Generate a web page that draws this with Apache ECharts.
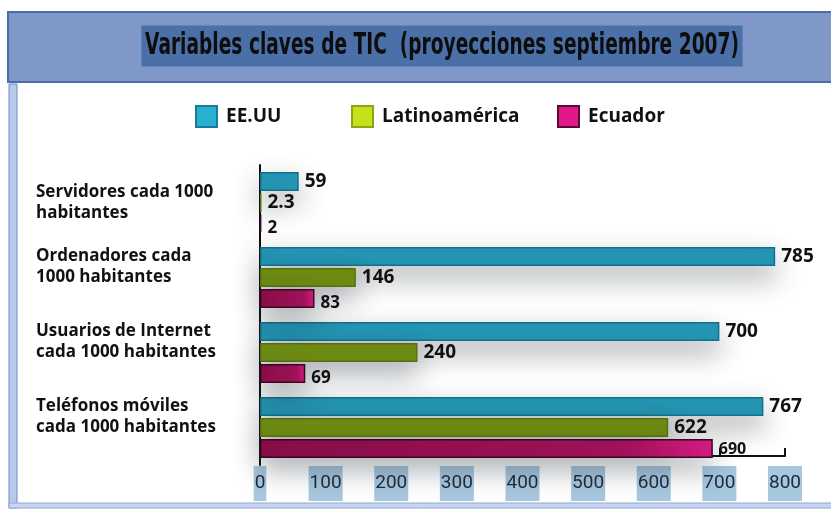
<!DOCTYPE html>
<html>
<head>
<meta charset="utf-8">
<script src="https://cdn.jsdelivr.net/npm/echarts@6/dist/echarts.min.js"></script>
<style>
  html, body { margin: 0; padding: 0; background: #fff; }
  #chart { width: 831px; height: 511px; }
</style>
</head>
<body>
<div id="chart"></div>
<script>
const categories = [
  'Servidores cada 1000\nhabitantes',
  'Ordenadores cada\n1000 habitantes',
  'Usuarios de Internet\ncada 1000 habitantes',
  'Teléfonos móviles\ncada 1000 habitantes'
];
const seriesNames = ['EE.UU', 'Latinoamérica', 'Ecuador'];
const usaValues = [59, 785, 700, 767];
const latamValues = [2.3, 146, 240, 622];
const ecuadorValues = [2, 83, 69, 690];
const xTicks = { min: 0, max: 800, interval: 100 };
const titleText = 'Variables claves de TIC  (proyecciones septiembre 2007)';

const bold = "'Open Sans', 'Noto Sans', sans-serif";

const chart = echarts.init(document.getElementById('chart'));

const shadow = {
  shadowColor: 'rgba(40,50,60,0.4)',
  shadowBlur: 28,
  shadowOffsetY: 12
};

function valueLabel(extra) {
  return Object.assign({
    show: true,
    position: 'right',
    distance: 6,
    color: '#111',
    fontFamily: bold,
    fontWeight: 'bold',
    fontSize: 19
  }, extra || {});
}

// one legend per item so each can sit where the reference puts it
const legendSpots = [190, 346, 552];
const legendIcons = [
  { color: '#28b0d0', borderColor: '#1a7b96', borderWidth: 2 },
  { color: '#c6e11a', borderColor: '#8ea414', borderWidth: 2 },
  { color: '#e0188a', borderColor: '#5a0a30', borderWidth: 2 }
];
const legends = seriesNames.map((name, i) => ({
  top: 100,
  left: legendSpots[i],
  icon: 'rect',
  itemWidth: 21,
  itemHeight: 21,
  itemGap: 8,
  selectedMode: false,
  textStyle: {
    fontFamily: bold,
    fontWeight: 'bold',
    fontSize: 19,
    color: '#111',
    padding: [0, 0, 0, 4]
  },
  data: [{ name: name, itemStyle: legendIcons[i] }]
}));

const option = {
  backgroundColor: '#fff',
  legend: legends,
  graphic: [
    {
      type: 'rect', z: -10, silent: true,
      shape: { x: 8, y: 12, width: 840, height: 70 },
      style: { fill: '#7f98c8', stroke: '#4d6cab', lineWidth: 2 }
    },
    {
      type: 'rect', z: -10, silent: true,
      shape: { x: 9, y: 84, width: 8, height: 424 },
      style: { fill: '#b9c9ea', stroke: '#6f8cc8', lineWidth: 1 }
    },
    {
      type: 'rect', z: -10, silent: true,
      shape: { x: 9, y: 503, width: 840, height: 5 },
      style: { fill: '#c7d5ef', stroke: '#8ea6d6', lineWidth: 1 }
    },
    {
      type: 'text', silent: true,
      x: 442, y: 46,
      scaleX: 0.6,
      style: {
        text: titleText,
        fill: '#0d0d0d',
        font: "bold 31px 'DejaVu Sans', sans-serif",
        align: 'center',
        verticalAlign: 'middle',
        backgroundColor: '#4b6fa7',
        padding: [5, 6, 5, 6]
      }
    }
  ],
  grid: {
    left: 260,
    right: 46,
    top: 165,
    bottom: 46,
    containLabel: false,
    outerBoundsMode: 'none'
  },
  xAxis: {
    type: 'value',
    min: xTicks.min,
    max: xTicks.max,
    interval: xTicks.interval,
    offset: -9,
    splitLine: { show: false },
    axisLine: { show: true, lineStyle: { color: '#111', width: 2 } },
    axisTick: { show: true, inside: true, length: 8, lineStyle: { color: '#111', width: 2 } },
    axisLabel: {
      margin: 10,
      fontFamily: "'Roboto', sans-serif",
      fontSize: 19,
      color: '#1d2a3a',
      backgroundColor: '#a7c7df',
      padding: [8, 1, 8, 1]
    }
  },
  yAxis: {
    type: 'category',
    inverse: true,
    data: categories,
    axisLine: { show: true, lineStyle: { color: '#111', width: 2 } },
    axisTick: { show: false },
    axisLabel: {
      align: 'left',
      margin: 224,
      fontFamily: bold,
      fontWeight: 'bold',
      fontSize: 17,
      lineHeight: 21,
      color: '#111',
      // labels sit above the middle of their band in the reference
      formatter: (v, i) => i === 0 ? v : v + '\n'
    }
  },
  series: [
    {
      name: seriesNames[0],
      type: 'bar',
      data: usaValues,
      barWidth: 19,
      barGap: '10%',
      itemStyle: Object.assign({ color: '#2597b5', borderColor: '#14708a', borderWidth: 1.5 }, shadow),
      label: valueLabel()
    },
    {
      name: seriesNames[1],
      type: 'bar',
      data: latamValues,
      barWidth: 19,
      barGap: '10%',
      itemStyle: Object.assign({ color: '#6f8d13', borderColor: '#58700c', borderWidth: 1.5 }, shadow),
      label: valueLabel()
    },
    {
      name: seriesNames[2],
      type: 'bar',
      data: ecuadorValues.map((v, i) => i === 3
        ? { value: v, label: { fontSize: 16, offset: [0, 1] } }
        : v),
      barWidth: 19,
      barGap: '10%',
      itemStyle: Object.assign({
        color: new echarts.graphic.LinearGradient(0, 0, 1, 0, [
          { offset: 0, color: '#8a0d49' },
          { offset: 0.8, color: '#a2125a' },
          { offset: 1, color: '#d81a84' }
        ]),
        borderColor: '#3a0620',
        borderWidth: 1.5
      }, shadow),
      label: valueLabel({ offset: [0, 5], fontSize: 17 })
    }
  ]
};

chart.setOption(option);
</script>
</body>
</html>
